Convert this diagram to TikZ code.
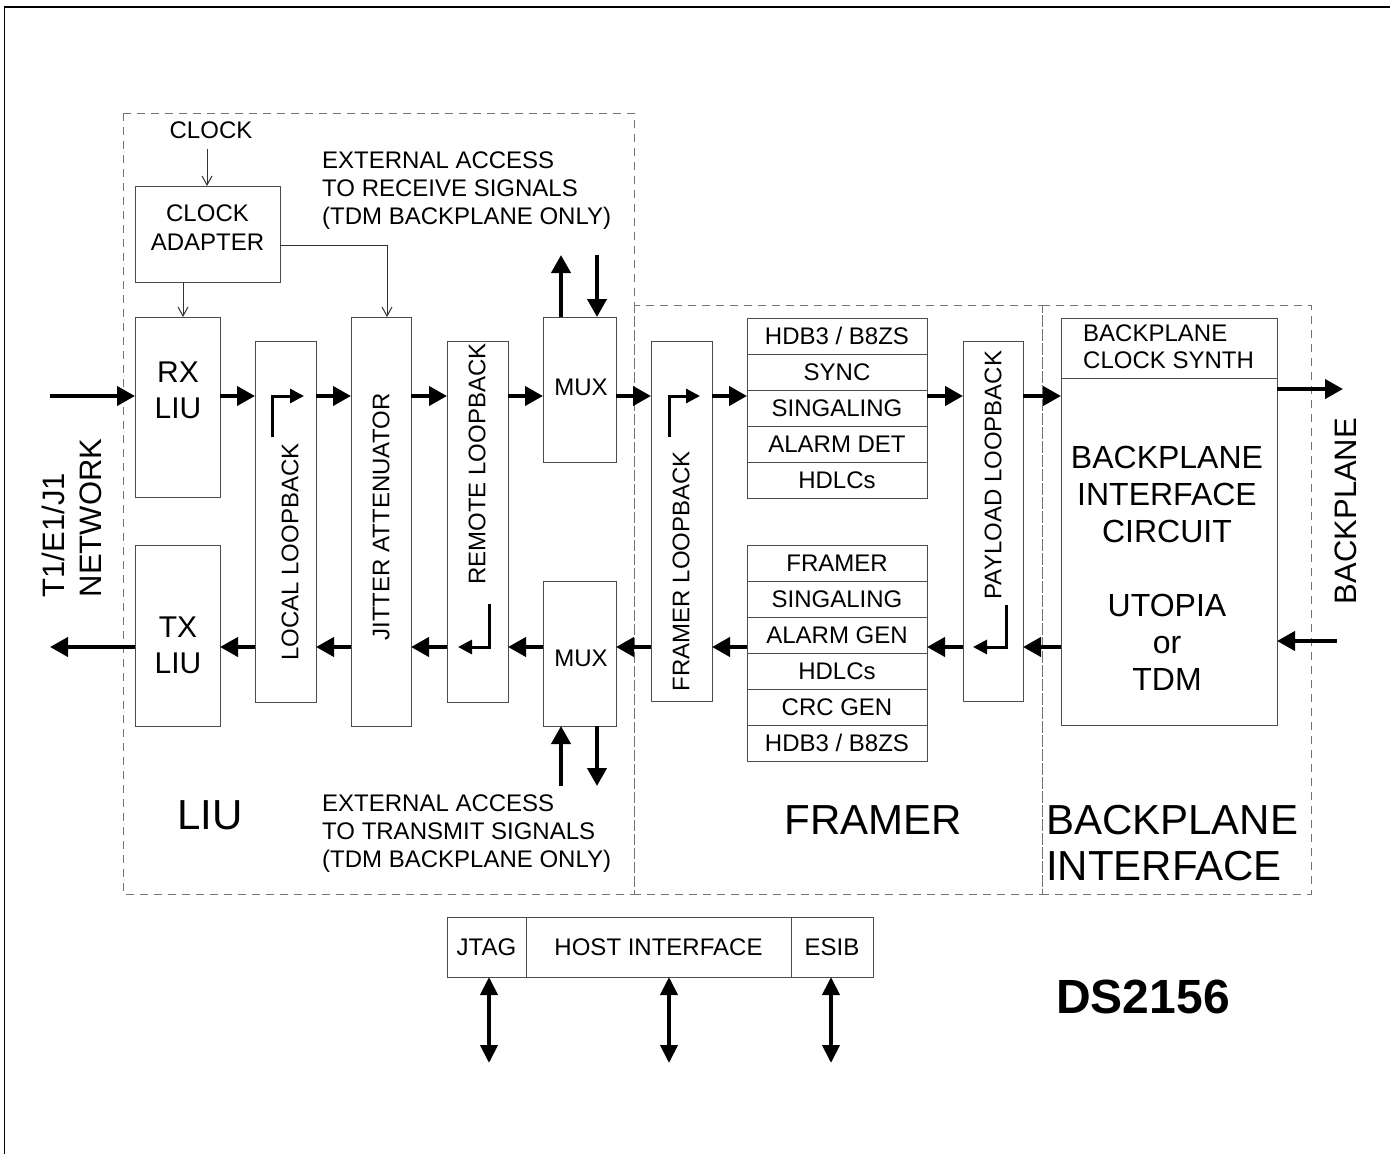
\documentclass[tikz,border=0pt]{standalone}
\usepackage{fontspec}
\setmainfont{Liberation Sans}
\usetikzlibrary{arrows.meta}
\begin{document}
\begin{tikzpicture}[x=1pt,y=-1pt,
  box/.style={draw=black!70,line width=0.9pt,inner sep=0pt,outer sep=0pt},
  row/.style={box,minimum width=180pt,minimum height=36pt,font=\fontsize{24}{28}\selectfont},
  bigarr/.style={line width=4pt,-{Triangle[length=18pt,width=19pt]}},
  lbarr/.style={line width=3pt,-{Triangle[length=14pt,width=14pt]}},
  thinarr/.style={line width=1pt,black!80,-{Straight Barb[length=9pt,width=10pt]}},
  dblarr/.style={line width=4pt,{Triangle[length=18pt,width=17pt]}-{Triangle[length=18pt,width=17pt]}},
  region/.style={draw=black!55,line width=1pt,dash pattern=on 8pt off 6pt},
  t24/.style={font=\fontsize{24}{28}\selectfont,inner sep=0pt},
  t30/.style={font=\fontsize{30}{36}\selectfont,inner sep=0pt},
  t31/.style={font=\fontsize{31}{37}\selectfont,inner sep=0pt},
  t42/.style={font=\fontsize{42}{46}\selectfont,inner sep=0pt},
]
\useasboundingbox (0,0) rectangle (1390,1154);
% outer frame
\draw[line width=1.2pt] (4.5,1160) -- (4.5,7) -- (1392,7);
% dashed regions
\draw[region] (123,113) rectangle (634,894);
\draw[region] (634,305) rectangle (1042,894);
\draw[region] (1042,305) rectangle (1311,894);

% helper coordinates
\coordinate (rxy) at (0,396);
\coordinate (txy) at (0,647);

% boxes
\node[box,minimum width=145pt,minimum height=96pt] (clkad) at (207.5,234) {};
\node[box,minimum width=85pt,minimum height=180pt] (rxliu) at (177.5,407) {};
\node[box,minimum width=85pt,minimum height=181pt] (txliu) at (177.5,635.5) {};
\node[box,minimum width=61pt,minimum height=361pt] (local) at (285.5,521.5) {};
\node[box,minimum width=60pt,minimum height=409pt] (jitter) at (381,521.5) {};
\node[box,minimum width=61pt,minimum height=361pt] (remote) at (477.5,521.5) {};
\node[box,minimum width=73pt,minimum height=145pt] (muxA) at (579.5,389.5) {};
\node[box,minimum width=73pt,minimum height=145pt] (muxB) at (579.5,653.5) {};
\node[box,minimum width=61pt,minimum height=360pt] (framerlb) at (681.5,521) {};
\node[box,minimum width=60pt,minimum height=360pt] (payload) at (993,521) {};
\node[box,minimum width=216pt,minimum height=407pt] (bp) at (1169,521.5) {};
\coordinate (bpdiv) at (0,378);
\draw[draw=black!70,line width=0.9pt] (bp.west |- bpdiv) -- (bp.east |- bpdiv);

% upper stack
\node[row] (u1) at (837,336) {HDB3 / B8ZS};
\node[row] (u2) at (837,372) {SYNC};
\node[row] (u3) at (837,408) {SINGALING};
\node[row] (u4) at (837,444) {ALARM DET};
\node[row] (u5) at (837,480) {HDLCs};
% lower stack
\node[row] (l1) at (837,563) {FRAMER};
\node[row] (l2) at (837,599) {SINGALING};
\node[row] (l3) at (837,635) {ALARM GEN};
\node[row] (l4) at (837,671) {HDLCs};
\node[row] (l5) at (837,707) {CRC GEN};
\node[row] (l6) at (837,743) {HDB3 / B8ZS};

% host interface
\node[box,minimum width=79pt,minimum height=60pt,t24] (jtag) at (486.5,947) {JTAG};
\node[box,minimum width=265pt,minimum height=60pt,t24] (host) at (658.5,947) {HOST INTERFACE};
\node[box,minimum width=82pt,minimum height=60pt,t24] (esib) at (832,947) {ESIB};

% texts
\node[t24] (clk) at (211,130) {CLOCK};
\node[font=\fontsize{24}{29}\selectfont,inner sep=0pt,align=center] (clkadtxt) at (207.5,228) {CLOCK\\ADAPTER};
\node[t24,align=left,anchor=west] (ext1) at (322,191) {EXTERNAL ACCESS\\TO RECEIVE SIGNALS\\(TDM BACKPLANE ONLY)};
\node[t24,align=left,anchor=west] (ext2) at (322,834) {EXTERNAL ACCESS\\TO TRANSMIT SIGNALS\\(TDM BACKPLANE ONLY)};
\node[t30,align=center] (rxtxt) at (178,390) {RX\\LIU};
\node[t30,align=center] (txtxt) at (178,645) {TX\\LIU};
\node[t24,rotate=90] (localtxt) at (290,552) {LOCAL LOOPBACK};
\node[t24,rotate=90] (jittertxt) at (381,517) {JITTER ATTENUATOR};
\node[t24,rotate=90] (remotetxt) at (477,464) {REMOTE LOOPBACK};
\node[t24,rotate=90] (framertxt) at (681,571) {FRAMER LOOPBACK};
\node[t24,rotate=90] (payloadtxt) at (993,475) {PAYLOAD LOOPBACK};
\node[t24] (muxAtxt) at (581,387) {MUX};
\node[t24] (muxBtxt) at (581,658) {MUX};
\node[font=\fontsize{24}{27}\selectfont,inner sep=0pt,align=left,anchor=west] (clksynth) at (1083,346.5) {BACKPLANE\\CLOCK SYNTH};
\node[font=\fontsize{32}{37}\selectfont,inner sep=0pt,align=center] (bptxt) at (1167,568.5) {BACKPLANE\\INTERFACE\\CIRCUIT\\[37pt]UTOPIA\\or\\TDM};
\node[t42] (liutxt) at (210,815) {LIU};
\node[t42] (framerbig) at (873,820) {FRAMER};
\node[t42,align=left,anchor=west] (bpbig) at (1046,843) {BACKPLANE\\INTERFACE};
\node[font=\fontsize{48}{52}\selectfont\bfseries,inner sep=0pt] (ds) at (1143,997) {DS2156};
\node[t31,rotate=90,align=left] (net) at (72,518) {T1/E1/J1\\NETWORK};
\node[t31,rotate=90] (bplabel) at (1346,511) {BACKPLANE};

% clock connectors
\coordinate (clkin) at (207,149);
\draw[thinarr] (clkin) -- (clkad.north -| clkin);
\coordinate (xa) at (183,0);
\draw[thinarr] (clkad.south -| xa) -- (rxliu.north -| xa);
\coordinate (ya) at (0,245);
\coordinate (xb) at (387,0);
\draw[thinarr] (clkad.east |- ya) -| (jitter.north -| xb);

% receive path
\coordinate (netin) at (50,396);
\draw[bigarr] (netin) -- (rxliu.west |- rxy);
\draw[bigarr] (rxliu.east |- rxy) -- (local.west |- rxy);
\draw[bigarr] (local.east |- rxy) -- (jitter.west |- rxy);
\draw[bigarr] (jitter.east |- rxy) -- (remote.west |- rxy);
\draw[bigarr] (remote.east |- rxy) -- (muxA.west |- rxy);
\draw[bigarr] (muxA.east |- rxy) -- (framerlb.west |- rxy);
\draw[bigarr] (framerlb.east |- rxy) -- (u1.west |- rxy);
\draw[bigarr] (u1.east |- rxy) -- (payload.west |- rxy);
\draw[bigarr] (payload.east |- rxy) -- (bp.west |- rxy);
\coordinate (bpout) at (1343,389);
\draw[bigarr] (bp.east |- bpout) -- (bpout);
\coordinate (bpin) at (1337,641);
\draw[bigarr] (bpin) -- (bp.east |- bpin);

% transmit path
\draw[bigarr] (bp.west |- txy) -- (payload.east |- txy);
\draw[bigarr] (payload.west |- txy) -- (l1.east |- txy);
\draw[bigarr] (l1.west |- txy) -- (framerlb.east |- txy);
\draw[bigarr] (framerlb.west |- txy) -- (muxB.east |- txy);
\draw[bigarr] (muxB.west |- txy) -- (remote.east |- txy);
\draw[bigarr] (remote.west |- txy) -- (jitter.east |- txy);
\draw[bigarr] (jitter.west |- txy) -- (local.east |- txy);
\draw[bigarr] (local.west |- txy) -- (txliu.east |- txy);
\coordinate (netout) at (50,647);
\draw[bigarr] (txliu.west |- txy) -- (netout);

% loopback symbols
\coordinate (lbL1) at (272,437); \coordinate (lbL2) at (304,396);
\draw[lbarr] (lbL1) |- (lbL2);
\coordinate (lbF1) at (669,437); \coordinate (lbF2) at (700,396);
\draw[lbarr] (lbF1) |- (lbF2);
\coordinate (lbP1) at (1006,605); \coordinate (lbP2) at (973,647);
\draw[lbarr] (lbP1) |- (lbP2);
\coordinate (lbR1) at (489,604); \coordinate (lbR2) at (458,647);
\draw[lbarr] (lbR1) |- (lbR2);

% mux external access
\coordinate (mAup) at (561,255); \coordinate (mAdn) at (597,255);
\draw[bigarr] (muxA.north -| mAup) -- (mAup);
\draw[bigarr] (mAdn) -- (muxA.north -| mAdn);
\coordinate (mBup) at (561,786); \coordinate (mBdn) at (597,786);
\draw[bigarr] (mBup) -- (muxB.south -| mBup);
\draw[bigarr] (muxB.south -| mBdn) -- (mBdn);

% host arrows
\coordinate (jend) at (489,1063);
\coordinate (hend) at (669,1063);
\coordinate (eend) at (831,1063);
\draw[dblarr] (jtag.south -| jend) -- (jend);
\draw[dblarr] (host.south -| hend) -- (hend);
\draw[dblarr] (esib.south -| eend) -- (eend);
\end{tikzpicture}
\end{document}
